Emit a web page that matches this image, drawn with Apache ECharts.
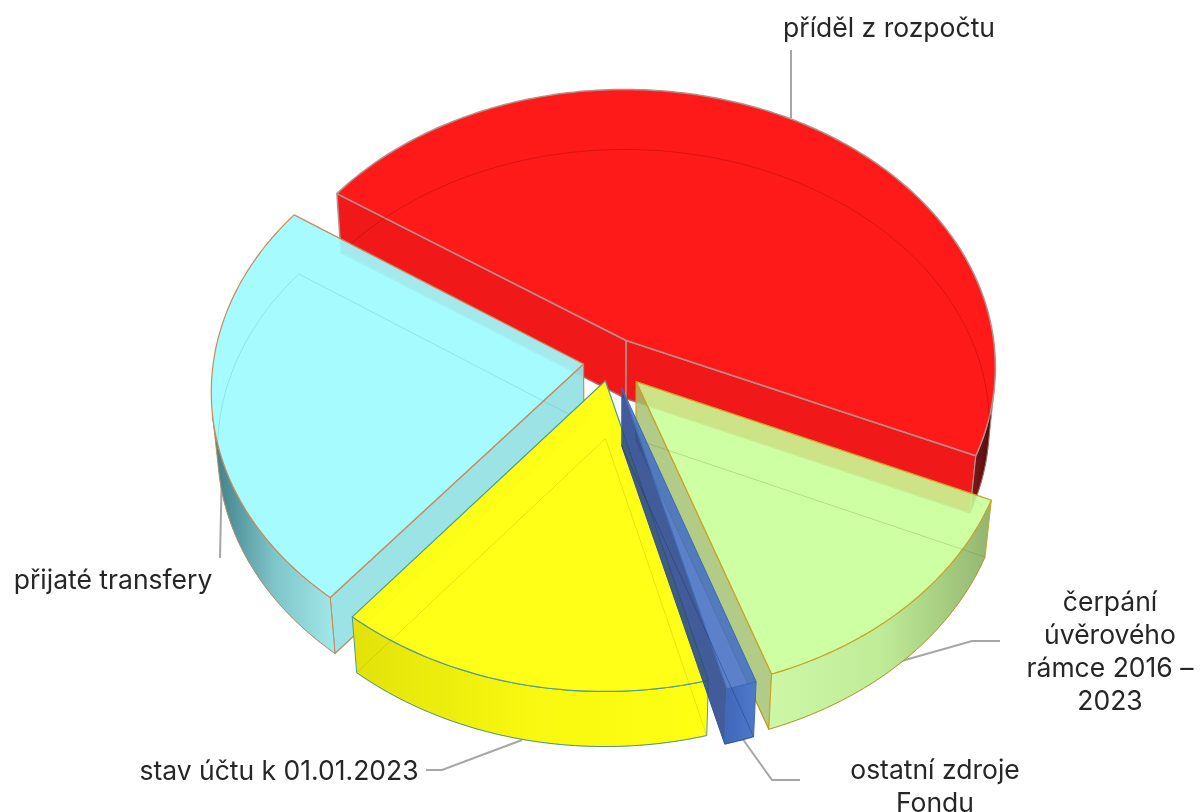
<!DOCTYPE html>
<html><head><meta charset="utf-8">
<style>html,body{margin:0;padding:0;background:#fff}#c{width:1200px;height:812px}</style>
<script src="https://cdn.jsdelivr.net/npm/echarts@6/dist/echarts.min.js"></script>
</head><body><div id="c"></div>
<script>
const categories = ['příděl z rozpočtu','čerpání úvěrového rámce 2016 – 2023','ostatní zdroje Fondu','stav účtu k 01.01.2023','přijaté transfery'];
const values = [47.1, 13.1, 1.2, 14.9, 23.7];
const labelTexts = ['příděl z rozpočtu','čerpání\núvěrového\nrámce 2016 –\n2023','ostatní zdroje\nFondu','stav účtu k 01.01.2023','přijaté transfery'];
const labelPos = [[889,29,'center'],[1110,653,'center'],[935,788,'center'],[279,772,'center'],[113,581,'center']];
const leaderLines = [
  [[791,50],[791,118]],
  [[1000,641],[972,641],[898,662]],
  [[800,780],[772,780],[742,738]],
  [[426,770],[442,770],[522,740]],
  [[222,465],[220,558]]
];
const drawOrder = [0,4,1,3,2];
const looks = [
  {explode:0.085,top:'rgba(255,26,26,1)',wall:'rgba(240,24,24,1)',grad:['#8a1616','#3a0f0f'],edge:'#b59088',edgeW:1.5,inner:'rgba(130,0,0,0.3)'},
  {explode:0.1,top:'rgba(200,255,150,0.88)',wall:'rgba(165,195,115,0.85)',grad:['#cdf7a6','#c0ec98','#93b56f'],edge:'#c9a32a',edgeW:1.2,inner:'rgba(90,120,60,0.25)'},
  {explode:0.1,top:'rgba(70,110,195,0.88)',wall:'rgba(40,70,140,0.88)',grad:['#3f66b8','#5079cc'],edge:'#3d6cb5',edgeW:1,inner:'rgba(20,40,90,0.35)'},
  {explode:0.072,top:'rgba(255,255,15,0.97)',wall:'rgba(235,235,10,0.9)',grad:['#e2e20a','#f8f810','#ffff14'],edge:'#4f9c96',edgeW:1.2,inner:'rgba(120,120,0,0.2)'},
  {explode:0.075,top:'rgba(158,251,253,0.93)',wall:'rgba(150,225,228,0.95)',grad:['#3d7c86','#7fc4c8','#a2e9e9'],edge:'#c98a5e',edgeW:1.2,inner:'rgba(70,160,175,0.25)'}
];
const CX=611, CY=361, R=370, QR=278, K=0.093, KZ=0.016, H=58, START=145.7;
function proj(x,y,z){const s=1/(1+K*y+KZ*z), sv=1/(1+K*y+KZ*z*0.5);return [CX+R*x*s, CY-QR*y*sv+H*z];}
const total=values.reduce((a,b)=>a+b,0);
function sliceAngles(i){let c=0;for(let j=0;j<i;j++)c+=values[j];return [START-c/total*360,START-(c+values[i])/total*360];}
function area(p){let a=0;for(let i=0;i<p.length;i++){const q=p[(i+1)%p.length];a+=p[i][0]*q[1]-q[0]*p[i][1];}return a/2;}
function renderItem(params,api){
  const i=params.dataIndex; api.value(0);
  const [a0,a1]=sliceAngles(i), mid=(a0+a1)/2*Math.PI/180, L=looks[i];
  const ox=L.explode*Math.cos(mid), oy=L.explode*Math.sin(mid);
  const order=drawOrder.indexOf(i)*10;
  const pt=(a,r,z)=>proj(ox+r*Math.cos(a*Math.PI/180),oy+r*Math.sin(a*Math.PI/180),z);
  const n=Math.max(4,Math.ceil(a0-a1));
  const arc=(z)=>{const o=[];for(let t=0;t<=n;t++)o.push(pt(a0+(a1-a0)*t/n,1,z));return o;};
  const apexT=pt(0,0,0), apexB=pt(0,0,1), top=arc(0), bot=arc(1);
  const ch=[];
  const poly=(points,fill,stroke,lw,z2)=>ch.push({type:'polygon',shape:{points},style:{fill,stroke,lineWidth:lw,lineJoin:'round'},z2:order+z2,silent:true});
  const line=(points,stroke,lw,z2)=>ch.push({type:'polyline',shape:{points},style:{fill:null,stroke,lineWidth:lw},z2:order+z2,silent:true});
  const w0=[apexT,top[0],bot[0],apexB], w1=[top[n],apexT,apexB,bot[n]];
  if(area(w0)<0) poly(w0,L.wall,L.edge,L.edgeW,1);
  if(area(w1)<0) poly(w1,L.wall,L.edge,L.edgeW,1);
  let run=[];
  const flush=()=>{ if(run.length){
      const t=run.map(k=>top[k]), b=run.map(k=>bot[k]).reverse();
      const stops=L.grad.map((c,j)=>({offset:j/(L.grad.length-1),color:c}));
      poly(t.concat(b),new echarts.graphic.LinearGradient(0,0,1,0,stops),L.edge,1,2);
      run=[]; } };
  for(let t=0;t<n;t++){
    const f=[top[t],top[t+1],bot[t+1],bot[t]];
    if(area(f)<0){ if(!run.length) run.push(t); run.push(t+1); } else flush();
  }
  flush();
  poly([apexT].concat(top),L.top,L.edge,L.edgeW,3);
  line([apexB].concat(bot).concat([apexB]),L.inner,1,4);
  return {type:'group',children:ch};
}
const chart=echarts.init(document.getElementById('c'),null,{renderer:'canvas'});
const FONT='Inter';
const graphics=[];
leaderLines.forEach(l=>graphics.push({type:'polyline',shape:{points:l},style:{fill:null,stroke:'#a6a6a6',lineWidth:2},z:1}));
labelTexts.forEach((t,i)=>graphics.push({type:'text',x:labelPos[i][0],y:labelPos[i][1],z:10,style:{text:t,font:'26.5px '+FONT,fill:'#262626',align:labelPos[i][2],verticalAlign:'middle',lineHeight:33}}));
chart.setOption({
  animation:false,
  backgroundColor:'#ffffff',
  series:[{type:'custom',coordinateSystem:'none',renderItem,data:values.map((v,i)=>({name:categories[i],value:[v]})),silent:true,z:5}],
  graphic:graphics
});
</script></body></html>
